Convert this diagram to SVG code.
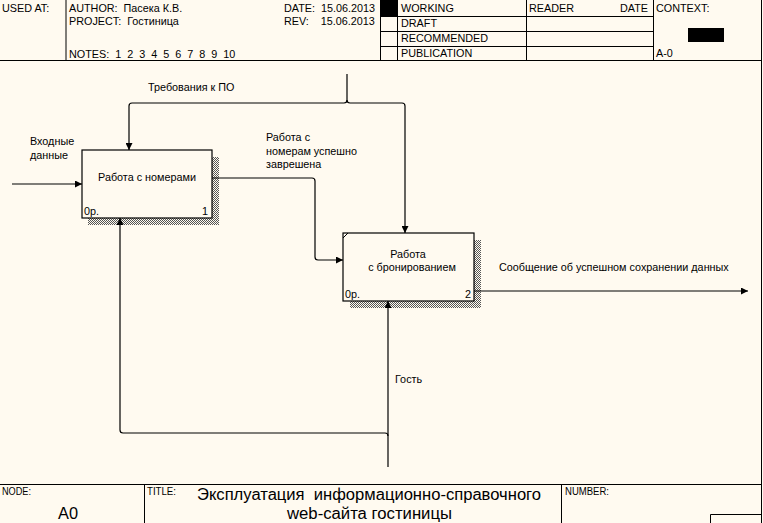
<svg xmlns="http://www.w3.org/2000/svg" width="763" height="523" viewBox="0 0 763 523">
<defs>
<style>
text{font-family:"Liberation Sans",Arial,sans-serif;font-size:10.8px;fill:#000}
.frame{stroke:#000;stroke-width:1;fill:none}
.box{fill:#FFFAF0;stroke:#000;stroke-width:1.2}
.conn{fill:none;stroke:#000;stroke-width:1.2}
.sm{font-size:10px}
.big{font-size:16px}
</style>
<pattern id="hatch" width="2" height="2" patternUnits="userSpaceOnUse">
<rect width="2" height="2" fill="#FFFAF0"/>
<rect width="1" height="1" fill="#555"/>
<rect x="1" y="1" width="1" height="1" fill="#555"/>
</pattern>
<marker id="arr" viewBox="0 0 10 10" refX="10" refY="5" markerWidth="8" markerHeight="7" markerUnits="userSpaceOnUse" orient="auto">
<path d="M0,0 L10,5 L0,10 z" fill="#000"/>
</marker>
</defs>
<rect width="763" height="523" fill="#FFFAF0"/>

<g id="header">
<line class="frame" x1="0" y1="60.5" x2="762" y2="60.5"/>
<line class="frame" x1="761.5" y1="0" x2="761.5" y2="523"/>
<line class="frame" x1="66" y1="0" x2="66" y2="60.5"/>
<line class="frame" x1="380.5" y1="0" x2="380.5" y2="60.5"/>
<line class="frame" x1="397.5" y1="0" x2="397.5" y2="60.5"/>
<line class="frame" x1="526.5" y1="0" x2="526.5" y2="60.5"/>
<line class="frame" x1="653.5" y1="0" x2="653.5" y2="60.5"/>
<line class="frame" x1="380.5" y1="16.5" x2="653.5" y2="16.5"/>
<line class="frame" x1="380.5" y1="31.5" x2="653.5" y2="31.5"/>
<line class="frame" x1="380.5" y1="46.5" x2="653.5" y2="46.5"/>
<rect x="381" y="0" width="16" height="16" fill="#000"/>
<rect x="688" y="28" width="36" height="14" fill="#000"/>
<text x="2" y="12">USED AT:</text>
<text x="69" y="12" xml:space="preserve">AUTHOR:  Пасека К.В.</text>
<text x="69" y="25" xml:space="preserve">PROJECT:  Гостиница</text>
<text x="69" y="58" xml:space="preserve">NOTES:  1  2  3  4  5  6  7  8  9  10</text>
<text x="284" y="12" xml:space="preserve">DATE:  15.06.2013</text>
<text x="284" y="25" xml:space="preserve">REV:    15.06.2013</text>
<text x="401" y="12">WORKING</text>
<text x="401" y="27">DRAFT</text>
<text x="401" y="42">RECOMMENDED</text>
<text x="401" y="57">PUBLICATION</text>
<text x="529" y="12">READER</text>
<text x="620" y="12">DATE</text>
<text x="656" y="12">CONTEXT:</text>
<text x="656" y="57">A-0</text>
</g>

<g id="footer">
<line class="frame" x1="0" y1="484.5" x2="762" y2="484.5"/>
<line class="frame" x1="144.5" y1="484.5" x2="144.5" y2="523"/>
<line class="frame" x1="561.5" y1="484.5" x2="561.5" y2="523"/>
<polyline class="frame" points="710.5,523 710.5,514.5 762,514.5"/>
<text class="sm" x="2" y="495" textLength="29" lengthAdjust="spacingAndGlyphs">NODE:</text>
<text class="big" x="58" y="519" textLength="20" lengthAdjust="spacingAndGlyphs">A0</text>
<text class="sm" x="147" y="495" textLength="29" lengthAdjust="spacingAndGlyphs">TITLE:</text>
<text class="big" x="197" y="500" textLength="344" lengthAdjust="spacingAndGlyphs" xml:space="preserve">Эксплуатация  информационно-справочного</text>
<text class="big" x="287" y="519" textLength="165" lengthAdjust="spacingAndGlyphs">web-сайта гостиницы</text>
<text class="sm" x="565" y="495" textLength="44" lengthAdjust="spacingAndGlyphs">NUMBER:</text>
</g>

<g id="node1">
<rect x="212" y="157" width="7" height="68" fill="url(#hatch)"/>
<rect x="88" y="218" width="131" height="7" fill="url(#hatch)"/>
<rect class="box" x="82" y="150" width="130" height="68"/>
<text x="147" y="181" text-anchor="middle">Работа с номерами</text>
<text x="84" y="215">0р.</text>
<text x="202" y="215">1</text>
</g>

<g id="node2">
<rect x="474" y="240" width="7" height="68" fill="url(#hatch)"/>
<rect x="350" y="301" width="131" height="7" fill="url(#hatch)"/>
<rect class="box" x="343" y="233" width="131" height="68"/>
<line x1="343" y1="238" x2="348" y2="233" stroke="#000" stroke-width="1"/>
<text x="408" y="258" text-anchor="middle">Работа</text>
<text x="412" y="271" text-anchor="middle">с бронированием</text>
<text x="345" y="298">0р.</text>
<text x="465" y="298">2</text>
</g>

<g id="connectors">
<path class="conn" d="M12,184 H82" marker-end="url(#arr)"/>
<path class="conn" d="M347,74 V100 Q347,103 344,103 H132 Q129,103 129,106 V150" marker-end="url(#arr)"/>
<path class="conn" d="M347,100 Q347,103 350,103 H402 Q405,103 405,106 V233" marker-end="url(#arr)"/>
<path class="conn" d="M212,178 H312 Q315,178 315,181 V257 Q315,260 318,260 H343" marker-end="url(#arr)"/>
<path class="conn" d="M474,291 H748" marker-end="url(#arr)"/>
<path class="conn" d="M388,467 V301" marker-end="url(#arr)"/>
<path class="conn" d="M388,436 Q388,433 385,433 H123 Q120,433 120,430 V218" marker-end="url(#arr)"/>
<text x="148" y="91">Требования к ПО</text>
<text x="30" y="145">Входные</text>
<text x="30" y="159">данные</text>
<text x="266" y="141">Работа с</text>
<text x="266" y="155">номерам успешно</text>
<text x="266" y="168">заврешена</text>
<text x="499" y="271">Сообщение об успешном сохранении данных</text>
<text x="395" y="383">Гость</text>
</g>
</svg>
